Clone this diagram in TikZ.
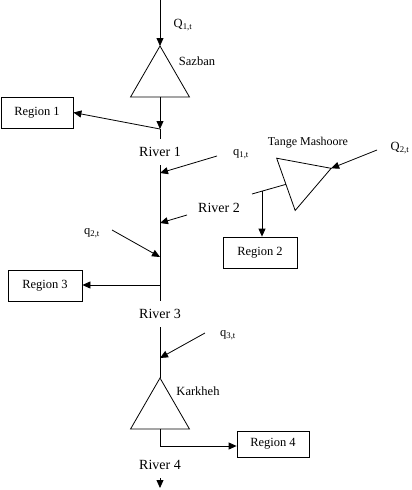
\documentclass[tikz,border=0pt]{standalone}
\usepackage{fontspec}
\setmainfont{Liberation Serif}
\usetikzlibrary{arrows.meta}
\usetikzlibrary{shapes.geometric}
\tikzset{>={Triangle[length=8pt,width=7pt]}}

\begin{document}
\begin{tikzpicture}[x=1pt,y=-1pt,line width=0.8pt,
  font=\fontsize{12.5}{14}\selectfont,
  dam/.style={draw,regular polygon,regular polygon sides=3,minimum size=68pt,inner sep=0pt,outer sep=0pt},
  region/.style={draw,minimum width=72pt,minimum height=31pt,inner sep=0pt},
  river/.style={inner xsep=1pt,inner ysep=8pt,font=\fontsize{14}{16}\selectfont}]
  \useasboundingbox (0,0) rectangle (412,490);

  % 坐标点定义
  \coordinate (Q1in) at (160,0);
  \coordinate (J1) at (160,129);
  \coordinate (q1in) at (217,156);
  \coordinate (M1) at (160,173);
  \coordinate (R2in) at (187,215);
  \coordinate (M2) at (160,223);
  \coordinate (q2in) at (112,230);
  \coordinate (M3) at (160,257);
  \coordinate (J3) at (160,285);
  \coordinate (q3in) at (205,333);
  \coordinate (M4) at (160,358);
  \coordinate (J4) at (160,446);
  \coordinate (Q2in) at (377,150);
  \coordinate (T1) at (252,194);
  \coordinate (T2) at (262,191);
  \coordinate (Out) at (160,488);

  % 水库
  \node[dam] (Sazban) at (160,80) {};
  \node[dam] (Karkheh) at (160,412) {};
  \node[dam,minimum size=64pt,rotate=-70.5] (Tange) at (301,179) {};

  % 地区
  \node[region] (Reg1) at (37,112.5) {Region 1};
  \node[region,minimum width=74pt] (Reg2) at (260,252.5) {Region 2};
  \node[region,minimum width=74pt] (Reg3) at (45,285.5) {Region 3};
  \node[region,minimum height=26pt] (Reg4) at (273,444) {Region 4};

  % 河段
  \node[river] (Riv1) at (160,152) {River 1};
  \node[river] (Riv2) at (219,208) {River 2};
  \node[river] (Riv3) at (160,314) {River 3};
  \node[river] (Riv4) at (160,465) {River 4};

  % 标签
  \node (LQ1) at (183,25) {Q\textsubscript{1,t}};
  \node (LQ2) at (400,148) {Q\textsubscript{2,t}};
  \node (Lq1) at (241,154) {q\textsubscript{1,t}};
  \node (Lq2) at (92,233) {q\textsubscript{2,t}};
  \node (Lq3) at (228,335) {q\textsubscript{3,t}};
  \node (LSaz) at (197,61) {Sazban};
  \node (LKar) at (198,391) {Karkheh};
  \node[font=\fontsize{12}{14}\selectfont] (LTan) at (308,143) {Tange Mashoore};

  % 主河道
  \draw[->] (Q1in) -- (Sazban.corner 1);
  \draw[->] (Sazban.side 2) -- (J1);
  \draw (J1) -- (Riv1.north);
  \draw (Riv1.south) -- (Riv3.north);
  \draw (Riv3.south) -- (Karkheh.corner 1);
  \draw (Karkheh.side 2) -- (J4);
  \draw[->] (Riv4.south) -- (Out);

  % 入流
  \draw[->] (q1in) -- (M1);
  \draw[->] (R2in) -- (M2);
  \draw[->] (q2in) -- (M3);
  \draw[->] (q3in) -- (M4);
  \draw[->] (Q2in) -- (Tange.corner 1);
  \draw (Tange.side 2) -- (T1);

  % 取水
  \draw[->] (J1) -- (Reg1.east);
  \draw[->] (T2) -- (T2 |- Reg2.north);
  \draw[->] (J3) -- (J3 -| Reg3.east);
  \draw[->] (J4) -- (J4 -| Reg4.west);
\end{tikzpicture}
\end{document}
